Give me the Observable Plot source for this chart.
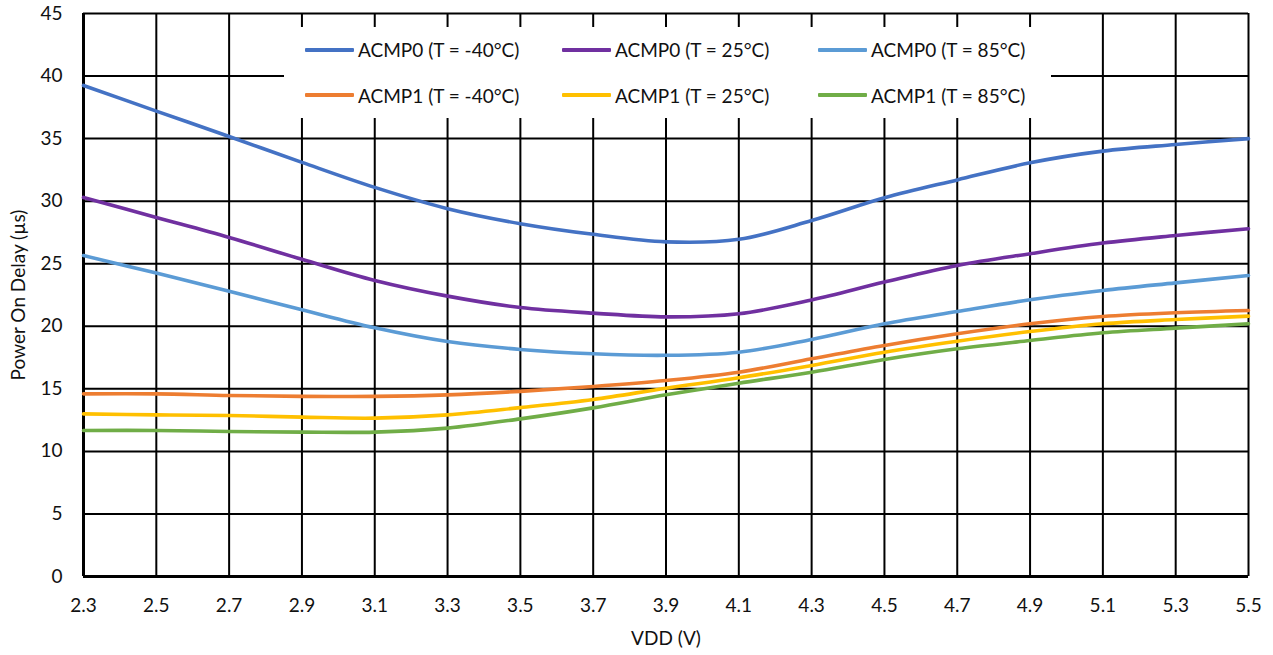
<!DOCTYPE html>
<html><head><meta charset="utf-8">
<script src="https://cdn.jsdelivr.net/npm/d3@7"></script>
<script src="https://cdn.jsdelivr.net/npm/@observablehq/plot@0.6"></script>
<style>
body{margin:0;background:#fff;font-family:Lato,"Open Sans",sans-serif;}
#wrap{position:relative;width:1273px;height:655px;}
#legend{position:absolute;left:284px;top:27px;width:767px;height:91px;background:#fff;
  display:grid;grid-template-columns:257px 256px 254px;grid-template-rows:45.5px 45.5px;
  box-sizing:border-box;padding-left:21px;font-size:19px;color:#111;}
.item{display:flex;align-items:center;white-space:nowrap;}
.sw{width:49px;height:4px;margin-right:4px;border-radius:1px;}
</style></head><body><div id="wrap"></div>
<script>
// Data
const vdd = [2.3, 2.5, 2.7, 2.9, 3.1, 3.3, 3.5, 3.7, 3.9, 4.1, 4.3, 4.5, 4.7, 4.9, 5.1, 5.3, 5.5];
const acmp0M40 = [39.25, 37.2, 35.17, 33.1, 31.1, 29.4, 28.2, 27.35, 26.75, 26.95, 28.45, 30.27, 31.7, 33.07, 34.0, 34.53, 35.0];
const acmp0P25 = [30.3, 28.7, 27.1, 25.35, 23.66, 22.41, 21.5, 21.05, 20.75, 21.0, 22.1, 23.53, 24.86, 25.8, 26.65, 27.26, 27.8];
const acmp0P85 = [25.65, 24.25, 22.8, 21.32, 19.88, 18.78, 18.15, 17.8, 17.68, 17.93, 18.95, 20.2, 21.18, 22.12, 22.86, 23.47, 24.06];
const acmp1M40 = [14.6, 14.6, 14.47, 14.4, 14.4, 14.52, 14.8, 15.19, 15.67, 16.33, 17.4, 18.47, 19.4, 20.2, 20.78, 21.08, 21.26];
const acmp1P25 = [13.0, 12.92, 12.87, 12.74, 12.66, 12.92, 13.5, 14.15, 15.05, 15.88, 16.87, 17.93, 18.81, 19.58, 20.2, 20.54, 20.81];
const acmp1P85 = [11.67, 11.67, 11.59, 11.54, 11.54, 11.86, 12.6, 13.48, 14.52, 15.45, 16.33, 17.35, 18.2, 18.86, 19.48, 19.85, 20.2];

const seriesNames = ["ACMP0 (T = -40°C)", "ACMP0 (T = 25°C)", "ACMP0 (T = 85°C)",
                     "ACMP1 (T = -40°C)", "ACMP1 (T = 25°C)", "ACMP1 (T = 85°C)"];
const seriesValues = [acmp0M40, acmp0P25, acmp0P85, acmp1M40, acmp1P25, acmp1P85];
const seriesColors = ["#4472C4", "#7030A0", "#5B9BD5", "#ED7D31", "#FFC000", "#70AD47"];

const xTicks = [2.3, 2.5, 2.7, 2.9, 3.1, 3.3, 3.5, 3.7, 3.9, 4.1, 4.3, 4.5, 4.7, 4.9, 5.1, 5.3, 5.5];
const yTicks = [0, 5, 10, 15, 20, 25, 30, 35, 40, 45];
const xTitle = "VDD (V)";
const yTitle = "Power On Delay (µs)";

const xDomain = [xTicks[0], xTicks[xTicks.length - 1]];
const yDomain = [yTicks[0], yTicks[yTicks.length - 1]];

const rows = seriesNames.flatMap((name, i) =>
  vdd.map((v, j) => ({series: name, vdd: v, delay: seriesValues[i][j]})));

const lineMarks = seriesNames.map((name, i) =>
  Plot.line(rows.filter(d => d.series === name), {
    x: "vdd", y: "delay", stroke: seriesColors[i], strokeWidth: 3.6, curve: "catmull-rom"
  }));

const FS = 19;
const chart = Plot.plot({
  width: 1273, height: 655,
  marginLeft: 83, marginRight: 25, marginTop: 13, marginBottom: 79,
  style: {fontFamily: "Lato, 'Open Sans', sans-serif", fontSize: FS + "px", color: "#111", background: "#fff"},
  x: {domain: xDomain, ticks: xTicks},
  y: {domain: yDomain, ticks: yTicks},
  marks: [
    Plot.gridX(xTicks, {stroke: "#000", strokeOpacity: 1, strokeWidth: 2}),
    Plot.gridY(yTicks, {stroke: "#000", strokeOpacity: 1, strokeWidth: 2}),
    Plot.ruleX([xDomain[0]], {stroke: "#000", strokeWidth: 3}),
    Plot.ruleY([yDomain[0]], {stroke: "#000", strokeWidth: 3}),
    Plot.axisX(xTicks, {tickSize: 0, tickPadding: 22, fontSize: FS, tickFormat: d => d.toFixed(1),
      label: xTitle, labelAnchor: "center", labelArrow: "none", labelOffset: 68}),
    Plot.axisY(yTicks, {tickSize: 0, tickPadding: 21, fontSize: FS, tickFormat: d => String(d),
      label: yTitle, labelAnchor: "center", labelArrow: "none", labelOffset: 72}),
    ...lineMarks
  ]
});

const wrap = document.getElementById("wrap");
wrap.appendChild(chart);

const legend = document.createElement("div");
legend.id = "legend";
seriesNames.forEach((name, i) => {
  const it = document.createElement("div");
  it.className = "item";
  const sw = document.createElement("span");
  sw.className = "sw";
  sw.style.background = seriesColors[i];
  const tx = document.createElement("span");
  tx.textContent = name;
  it.appendChild(sw); it.appendChild(tx);
  legend.appendChild(it);
});
wrap.appendChild(legend);
</script>
</body></html>
